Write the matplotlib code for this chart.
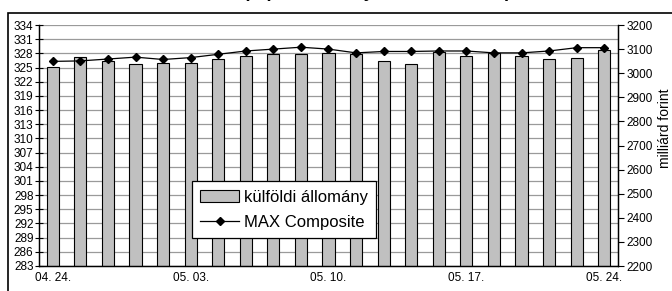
import matplotlib
matplotlib.use("Agg")
import matplotlib.pyplot as plt
from matplotlib.patches import Rectangle
import numpy as np

plt.rcParams['font.family'] = ['Liberation Sans', 'DejaVu Sans']

dates = ["04. 24.", "04. 25.", "04. 26.", "04. 27.", "05. 02.", "05. 03.", "05. 04.",
         "05. 07.", "05. 08.", "05. 09.", "05. 10.", "05. 11.", "05. 14.", "05. 15.",
         "05. 16.", "05. 17.", "05. 18.", "05. 21.", "05. 22.", "05. 23.", "05. 24."]
kulfoldi = [3025, 3066, 3049, 3037, 3044, 3044, 3058, 3071, 3078, 3078, 3082,
            3078, 3051, 3038, 3089, 3071, 3082, 3071, 3058, 3064, 3096]
max_comp = [326.3, 326.4, 326.8, 327.2, 326.7, 327.1, 327.8, 328.5, 328.9, 329.3, 328.9,
            328.1, 328.4, 328.4, 328.5, 328.5, 328.1, 328.1, 328.5, 329.2, 329.2]
left_ticks = list(range(283, 335, 3))
right_ticks = list(range(2200, 3201, 100))
shown_labels = {0: "04. 24.", 5: "05. 03.", 10: "05. 10.", 15: "05. 17.", 20: "05. 24."}
title = "A külföldi kézben lévő állampapír-állomány és a MAX Composite index alakulása"

W, H = 672, 291
fig = plt.figure(figsize=(W / 100, H / 100), dpi=100)
fig.patch.set_facecolor('white')

# outer chart frame
fig.patches.append(Rectangle((8 / W, -0.5), 2, 1.5 - 13 / H, transform=fig.transFigure,
                             fill=False, edgecolor='black', linewidth=1.2))
fig.text(350 / W, 1.0 + 3.0 / H, title, ha='center', va='baseline', fontsize=13,
         fontweight='bold', color='black')

ax = fig.add_axes([39 / W, 1 - 266 / H, (618 - 39) / W, (266 - 25) / H])
ax2 = ax.twinx()

x = np.arange(len(dates))
# bars on primary (right-scale) axis
ax.set_ylim(2200, 3200)
ax.set_xlim(-0.5, len(dates) - 0.5)
for lv in left_ticks:
    rv = 2200 + (lv - 283) / 51 * 1000
    ax.axhline(rv, color='#9a9a9a', linewidth=0.9, zorder=0)
ax.bar(x, kulfoldi, width=0.44, color='#c0c0c0', edgecolor='black', linewidth=0.8,
       zorder=2, label='külföldi állomány')
ax.yaxis.tick_right()
ax.set_yticks(right_ticks)
ax.yaxis.set_label_position('right')
ax.set_ylabel('milliárd forint', fontsize=10)
ax.yaxis.set_label_coords(1 + 40 / (618 - 39), 0.57)
ax.tick_params(axis='y', direction='out', length=4, width=0.8, labelsize=8.5, pad=2)
ax.set_xticks(list(shown_labels.keys()))
ax.set_xticklabels(list(shown_labels.values()), fontsize=8.5)
ax.tick_params(axis='x', length=0, pad=4)

# line on secondary (left-scale) axis
ax2.yaxis.tick_left()
ax2.set_ylim(283, 334)
ax2.set_yticks(left_ticks)
ax2.plot(x, max_comp, color='black', linewidth=0.9, marker='D', markersize=4,
         zorder=3, label='MAX Composite')
ax2.tick_params(axis='y', direction='inout', length=6, width=0.8, labelsize=8.5, pad=1)

for a in (ax, ax2):
    a.spines['top'].set_visible(False)
    for s in ('left', 'right', 'bottom'):
        a.spines[s].set_color('black')
        a.spines[s].set_linewidth(0.9)

h1, l1 = ax.get_legend_handles_labels()
h2, l2 = ax2.get_legend_handles_labels()
leg = ax2.legend(h1 + h2, l1 + l2, loc='lower left',
                 bbox_to_anchor=(192 / W, 1 - 238 / H), bbox_transform=fig.transFigure,
                 fontsize=12, frameon=True, fancybox=False, framealpha=1,
                 edgecolor='black', borderpad=0.5, handlelength=2.3, handletextpad=0.3,
                 labelspacing=0.6, borderaxespad=0)
leg.get_frame().set_linewidth(0.9)

fig.savefig('out.png', dpi=100, facecolor='white')
